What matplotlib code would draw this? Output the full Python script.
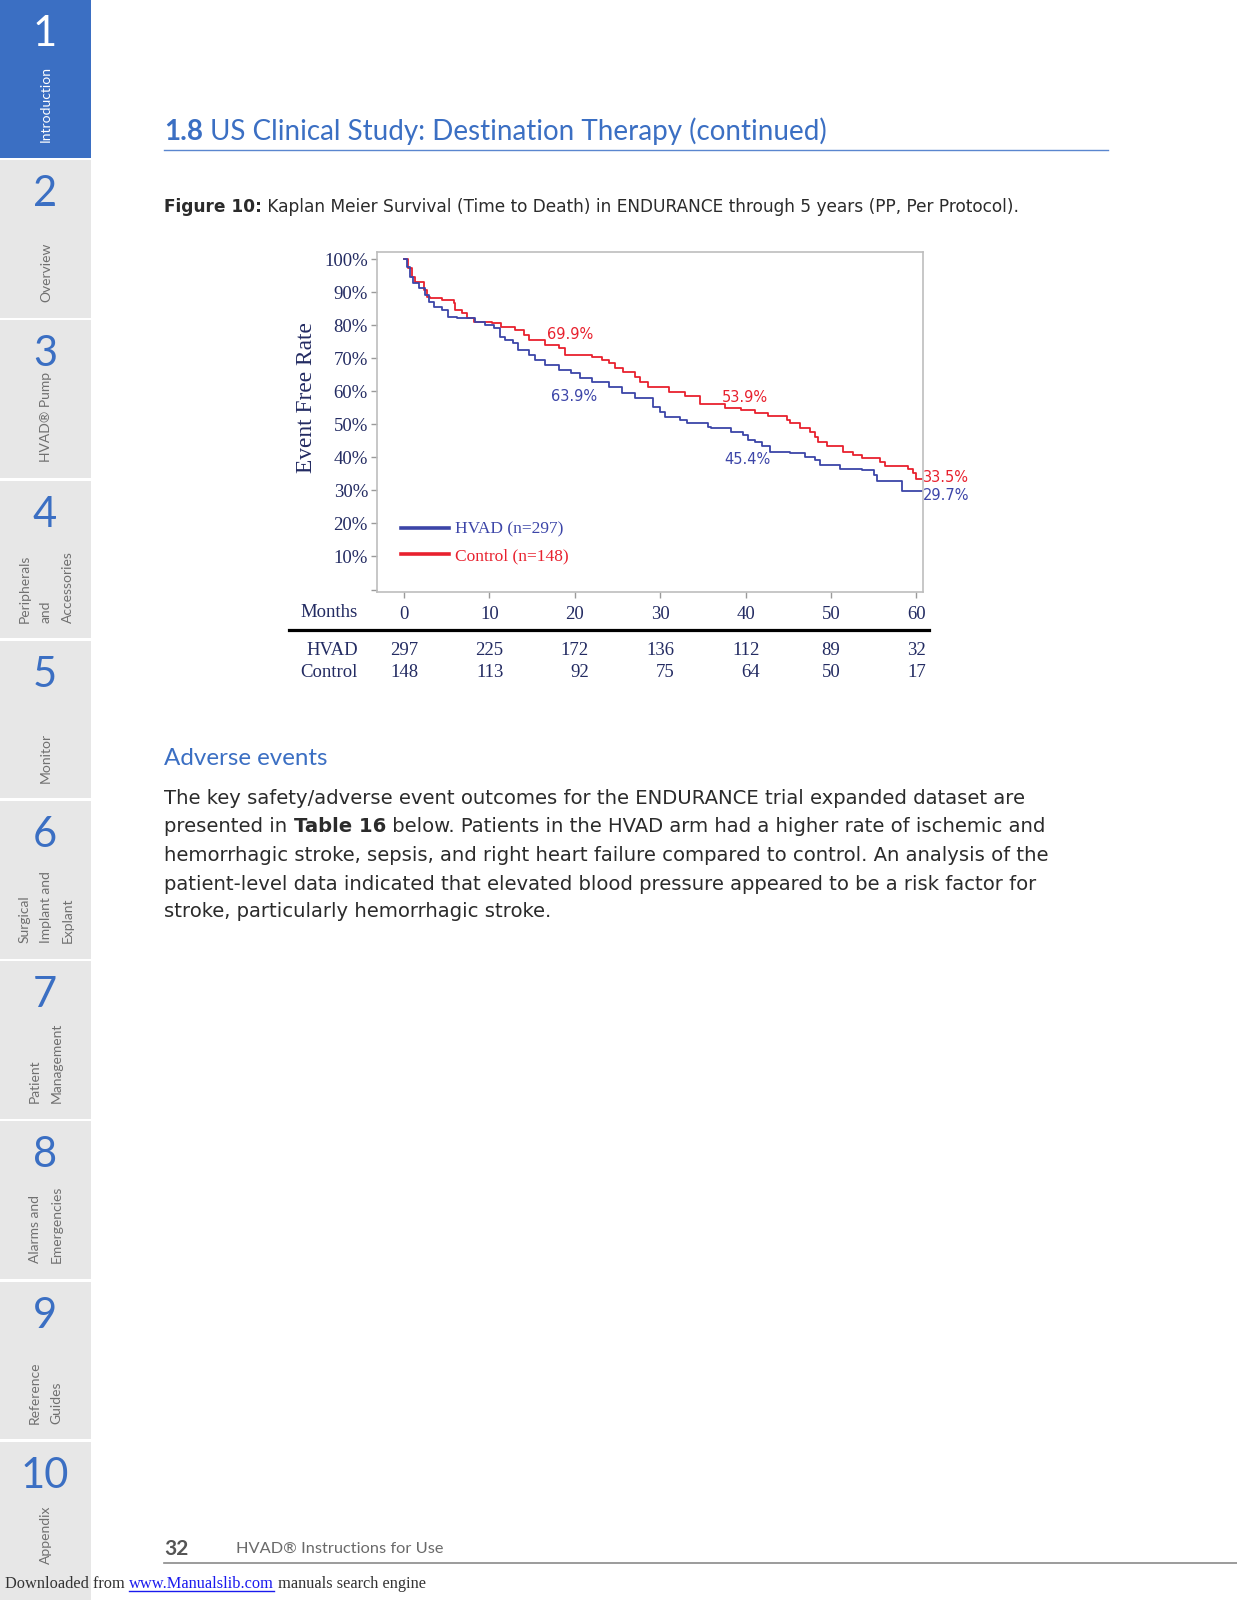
import matplotlib
matplotlib.use('Agg')
import matplotlib.pyplot as plt
import numpy as np
from matplotlib.lines import Line2D
from matplotlib.patches import Rectangle
from matplotlib.font_manager import FontProperties
from matplotlib.transforms import offset_copy

# ---------------- data ----------------
hvad_t = [0, 0.3, 0.7, 1.1, 1.7, 2.5, 2.9, 3.5, 4.4, 5.2, 6.2, 8.3, 9.5, 10.5, 11.2,
          11.8, 12.8, 13.4, 14.6, 15.3, 16.5, 18.1, 19.6, 20.6, 22.0, 24.0, 25.5, 27.1,
          29.1, 30.0, 30.6, 32.3, 33.1, 35.6, 36.0, 38.3, 39.7, 40.3, 41.1, 41.9, 42.8,
          45.2, 47.0, 48.1, 48.7, 51.1, 53.6, 55.0, 55.4, 58.3]
hvad_s = [100, 97.7, 94.6, 92.6, 91.1, 89.1, 87.1, 85.6, 84.6, 82.5, 82.1, 81.0, 80.0,
          79.0, 76.5, 75.5, 74.5, 72.5, 71.0, 69.4, 67.9, 66.4, 65.4, 63.9, 62.9, 61.2,
          59.4, 57.9, 55.3, 53.8, 52.1, 51.3, 50.3, 49.3, 48.8, 47.7, 46.7, 45.2, 44.7,
          43.4, 41.7, 41.2, 40.2, 39.2, 37.7, 36.5, 36.2, 34.6, 32.8, 29.7]
ctrl_t = [0, 0.5, 0.9, 1.3, 2.3, 2.7, 3.0, 4.4, 5.8, 6.0, 6.8, 7.4, 8.2, 10.3, 11.4,
          13.0, 14.0, 14.6, 16.5, 18.1, 18.9, 22.0, 23.2, 24.0, 24.7, 25.7, 27.1, 27.6,
          28.6, 31.0, 32.9, 34.7, 37.6, 39.5, 41.1, 42.6, 44.8, 45.2, 46.4, 47.5, 48.1,
          48.5, 49.5, 51.4, 52.6, 53.6, 55.7, 56.3, 59.0, 59.6, 60.0]
ctrl_s = [100, 97.2, 94.6, 93.1, 90.6, 88.6, 88.1, 87.6, 86.6, 84.6, 83.6, 82.1, 81.0,
          80.5, 79.5, 78.5, 77.0, 75.5, 74.0, 73.0, 71.0, 70.4, 69.4, 68.4, 66.9, 65.9,
          64.2, 62.9, 61.2, 59.8, 58.5, 56.0, 55.0, 54.3, 53.5, 52.5, 51.3, 50.3, 48.8,
          47.7, 46.2, 44.7, 43.4, 41.7, 40.7, 39.7, 38.7, 37.4, 36.4, 35.3, 33.5]
followup_end = 60.6

series_labels = ['HVAD (n=297)', 'Control (n=148)']

risk_months = [0, 10, 20, 30, 40, 50, 60]
risk_rows = ['HVAD', 'Control']
hvad_risk = [297, 225, 172, 136, 112, 89, 32]
ctrl_risk = [148, 113, 92, 75, 64, 50, 17]

y_ticks = [0, 10, 20, 30, 40, 50, 60, 70, 80, 90, 100]
y_ticklabels = [''] + [f'{v}%' for v in y_ticks[1:]]

# annotated rates: text, month, percent, series
rate_text = ['69.9%', '63.9%', '53.9%', '45.4%', '33.5%', '29.7%']
rate_month = [19.4, 19.9, 39.9, 40.2, 60.8, 60.8]
rate_pct = [77.1, 58.5, 58.2, 39.2, 33.8, 28.3]
rate_series = ['ctrl', 'hvad', 'ctrl', 'hvad', 'ctrl', 'hvad']

tab_numbers = ['1', '2', '3', '4', '5', '6', '7', '8', '9', '10']
tab_labels = ['Introduction', 'Overview', 'HVAD® Pump', 'Peripherals\nand\nAccessories',
              'Monitor', 'Surgical\nImplant and\nExplant', 'Patient\nManagement',
              'Alarms and\nEmergencies', 'Reference\nGuides', 'Appendix']

body_lines = [
    [('The key safety/adverse event outcomes for the ENDURANCE trial expanded dataset are', 'normal')],
    [('presented in ', 'normal'), ('Table 16', 'bold'),
     (' below. Patients in the HVAD arm had a higher rate of ischemic and', 'normal')],
    [('hemorrhagic stroke, sepsis, and right heart failure compared to control. An analysis of the', 'normal')],
    [('patient-level data indicated that elevated blood pressure appeared to be a risk factor for', 'normal')],
    [('stroke, particularly hemorrhagic stroke.', 'normal')],
]

# ---------------- style ----------------
W, H = 1237, 1600
BLUE = '#3c45a8'
RED = '#e8212e'
NAVY = '#232b62'
PAGE_BLUE = '#3b6fc3'
THIN = ['Lato', 'DejaVu Sans']
SERIF = ['Liberation Serif', 'DejaVu Serif']
BODY = ['DejaVu Sans']

plt.rcParams['font.family'] = ['DejaVu Sans']

fig = plt.figure(figsize=(W / 100, H / 100), dpi=100)
fig.patch.set_facecolor('white')
renderer = fig.canvas.get_renderer()


def fx(x):
    return x / W


def fy(y):
    return 1 - y / H


def rich(x, y, pieces, size, family, color, va='center'):
    xx = x
    for txt, weight in pieces:
        t = fig.text(fx(xx), fy(y), txt, fontsize=size, family=family, weight=weight,
                     color=color, ha='left', va=va)
        xx += t.get_window_extent(renderer).width
    return xx - x


def width_of(pieces, size, family):
    tot = 0
    for txt, weight in pieces:
        t = fig.text(0, 0, txt, fontsize=size, family=family, weight=weight)
        tot += t.get_window_extent(renderer).width
        t.remove()
    return tot


def fit(pieces, target, family, base=12):
    return base * target / width_of(pieces, base, family)


# ---------------- sidebar ----------------
tab_pitch = 160.2
side_size = fit([('Introduction', 'normal')], 75.5, THIN)
for i, (num, lab) in enumerate(zip(tab_numbers, tab_labels)):
    top = i * tab_pitch
    h = 157.5 if i < len(tab_numbers) - 1 else H - top
    active = (i == 0)
    fig.add_artist(Rectangle((0, fy(top + h)), fx(91), h / H, transform=fig.transFigure,
                             facecolor=PAGE_BLUE if active else '#e7e7e7', edgecolor='none'))
    fig.text(fx(45), fy(top + 34), num, ha='center', va='center', fontsize=30,
             family=THIN, weight='normal',
             color='white' if active else PAGE_BLUE)
    fig.text(fx(46), fy(min(top + 142, 1563.5)), lab, rotation=90, ha='center', va='bottom',
             multialignment='left', fontsize=side_size, family=THIN, weight='normal',
             linespacing=1.95, color='white' if active else '#707070')

# ---------------- header ----------------
title = [('1.8', 'bold'), (' US Clinical Study: Destination Therapy (continued)', 'normal')]
rich(164.3, 131.5, title, fit(title, 658, THIN), THIN, PAGE_BLUE)
fig.add_artist(Line2D([fx(164.3), fx(1108.4)], [fy(150), fy(150)], transform=fig.transFigure,
                      color='#5a86cf', lw=1.0))

cap = [('Figure 10:', 'bold'),
       (' Kaplan Meier Survival (Time to Death) in ENDURANCE through 5 years (PP, Per Protocol).', 'normal')]
rich(164.3, 207.2, cap, fit(cap, 854, BODY), BODY, '#2b2b2b')

# ---------------- chart ----------------
ax = fig.add_axes([fx(377), fy(592), (923 - 377) / W, (592 - 252) / H])
x0_px, px_per_month = 404.0, 8.54
y0_px, px_per_pct = 589.5, 3.305
ax.set_xlim((377 - x0_px) / px_per_month, (923 - x0_px) / px_per_month)
ax.set_ylim((y0_px - 592) / px_per_pct, (y0_px - 252) / px_per_pct)

l_ctrl, = ax.step(np.append(ctrl_t, followup_end), np.append(ctrl_s, ctrl_s[-1]),
                  where='post', color=RED, lw=1.3, label=series_labels[1])
l_hvad, = ax.step(np.append(hvad_t, followup_end), np.append(hvad_s, hvad_s[-1]),
                  where='post', color=BLUE, lw=1.3, label=series_labels[0])

for sp in ax.spines.values():
    sp.set_color('#bdbdbd')
    sp.set_linewidth(1.2)

ax.set_yticks(y_ticks)
ax.set_yticklabels(y_ticklabels, family=SERIF, fontsize=13.5, color=NAVY)
ax.set_xticks(risk_months)
ax.set_xticklabels([str(m) for m in risk_months], family=SERIF, fontsize=13.5, color=NAVY)
ax.tick_params(axis='both', direction='out', length=4, width=1, color='#9a9a9a')
ax.tick_params(axis='y', pad=2.5)
ax.tick_params(axis='x', pad=6)

ax.set_ylabel('Event Free Rate', family=SERIF, fontsize=16.8, color=NAVY, va='center')
ax.yaxis.set_label_coords((306 - 377) / 546, (592 - 397.5) / 340)

leg = ax.legend(handles=[l_hvad, l_ctrl], loc='center left',
                bbox_to_anchor=((401 - 377) / 546, (592 - 543) / 340), frameon=False,
                handlelength=2.75, handletextpad=0.35, labelspacing=0.6, borderpad=0,
                borderaxespad=0, prop=FontProperties(family=SERIF, size=12.5),
                labelcolor='linecolor')
for ln in leg.get_lines():
    ln.set_linewidth(2.6)

for txt, m, p, s in zip(rate_text, rate_month, rate_pct, rate_series):
    ax.text(m, p, txt, color=RED if s == 'ctrl' else BLUE, fontsize=10.5,
            family=['DejaVu Sans'], ha='left' if m > 60 else 'center', va='center',
            clip_on=False)

# number at risk table
xt = ax.get_xaxis_transform()
TBL = 13.5
fig.text(fx(358), fy(612.4), 'Months', family=SERIF, fontsize=TBL, color=NAVY,
         ha='right', va='center')
fig.add_artist(Line2D([fx(289), fx(929)], [fy(629.7), fy(629.7)], transform=fig.transFigure,
                      color='black', lw=2.3))
row_y = [650.1, 672.6]
for rname, ry in zip(risk_rows, row_y):
    fig.text(fx(358), fy(ry), rname, family=SERIF, fontsize=TBL, color=NAVY,
             ha='right', va='center')
for j, m in enumerate(risk_months):
    col = [hvad_risk[j], ctrl_risk[j]]
    ndig = max(len(str(v)) for v in col)
    tr = offset_copy(xt, fig=fig, x=ndig * 0.25 * TBL, y=0, units='points')
    for v, ry in zip(col, row_y):
        ax.text(m, -(ry - 592) / 340, str(v), transform=tr, family=SERIF, fontsize=TBL,
                color=NAVY, ha='right', va='center', clip_on=False)

# ---------------- body text ----------------
adv = [('Adverse events', 'normal')]
rich(164.3, 758.5, adv, fit(adv, 163, THIN), THIN, PAGE_BLUE)
body_size = fit(body_lines[0], 859, BODY)
for pieces, y in zip(body_lines, [798, 826.7, 855.3, 884, 911.4]):
    rich(164.3, y, pieces, body_size, BODY, '#2b2b2b')

# ---------------- footer ----------------
fig.text(fx(164.3), fy(1549.3), '32', fontsize=15, family=THIN, weight='bold',
         color='#555555', ha='left', va='center')
foot = [('HVAD® Instructions for Use', 'normal')]
rich(235.8, 1549.3, foot, fit(foot, 206, THIN), THIN, '#6a6a6a')
fig.add_artist(Line2D([fx(164.3), fx(1237)], [fy(1562.6), fy(1562.6)],
                      transform=fig.transFigure, color='#8a8a8a', lw=1.2))
xx = 5
for txt, col in [('Downloaded from ', '#333333'), ('www.Manualslib.com', '#1a1aee'),
                 (' manuals search engine', '#333333')]:
    t = fig.text(fx(xx), fy(1584), txt, fontsize=11.8, family=SERIF, color=col,
                 ha='left', va='center')
    w = t.get_window_extent(renderer).width
    if col == '#1a1aee':
        fig.add_artist(Line2D([fx(xx), fx(xx + w)], [fy(1591), fy(1591)],
                              transform=fig.transFigure, color=col, lw=1))
    xx += w

fig.savefig('out.png', dpi=100)
